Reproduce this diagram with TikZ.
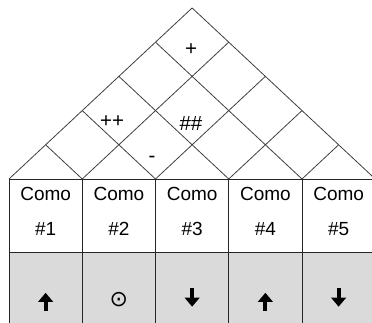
\documentclass[tikz,border=0pt]{standalone}
\usepackage{fontspec}
\usetikzlibrary{arrows.meta}
\setmainfont{Liberation Sans}
\newfontfamily\symfont{DejaVu Sans}
\definecolor{cellgray}{HTML}{DADADA}
\definecolor{roofline}{HTML}{404040}
\definecolor{gridline}{HTML}{262626}
\begin{document}
\begin{tikzpicture}[x=1pt,y=-1pt,
  roof/.style={draw=roofline,line width=0.8pt},
  grid/.style={draw=gridline,line width=0.9pt},
  lbl/.style={font=\fontsize{19}{22}\selectfont,inner sep=0pt},
  rooflbl/.style={font=\fontsize{20.5}{22}\selectfont,inner sep=0pt},
  dirbox/.style={inner sep=0pt,minimum width=14pt,minimum height=18pt},
  dirarrow/.style={draw=black,line width=4pt,-{Triangle[width=14.5pt,length=9pt]}},
  circ/.style={font=\symfont\fontsize{22}{24}\selectfont,inner sep=0pt}]
\useasboundingbox (0,0) rectangle (372,323);
\fill[white] (0,0) rectangle (372,323);
\def\L{9}\def\W{73.25}\def\T{179}\def\S{0.934}\def\D{252}\def\B{330}
% base points
\foreach \i in {0,...,5}{\coordinate (p\i) at ({\L+\W*\i},\T);}
% gray row
\fill[cellgray] (\L,\D) rectangle ({\L+5*\W},\B);
% roof grid
\foreach \i in {0,...,4}{\draw[roof] (p\i) -- ++({\W*(5-\i)/2},{-\S*\W*(5-\i)/2});}
\foreach \i in {1,...,5}{\draw[roof] (p\i) -- ++({-\W*\i/2},{-\S*\W*\i/2});}
% table
\draw[grid] (p0) -- (p5);
\draw[grid] (\L,\D) -- ({\L+5*\W},\D);
\foreach \i in {0,...,5}{\draw[grid] (p\i) -- ({\L+\W*\i},\B);}
% labels
\foreach \i in {1,...,5}{
  \node[lbl] (como\i) at ({\L+\W*(\i-0.5)},194) {Como};
  \node[lbl] (num\i) at ({\L+\W*(\i-0.5)},229) {\#\i};
}
% direction of improvement
\node[dirbox] (d1) at ({\L+\W*0.5},302) {};
\node[circ] (d2) at ({\L+\W*1.5},300) {⊙};
\node[dirbox] (d3) at ({\L+\W*2.5},297.5) {};
\node[dirbox] (d4) at ({\L+\W*3.5},302) {};
\node[dirbox] (d5) at ({\L+\W*4.5},297.5) {};
\draw[dirarrow] (d1.south) -- (d1.north);
\draw[dirarrow] (d3.north) -- (d3.south);
\draw[dirarrow] (d4.south) -- (d4.north);
\draw[dirarrow] (d5.north) -- (d5.south);
% roof marks
\node[rooflbl] (r1) at (191,50) {+};
\node[rooflbl] (r2) at (112,122) {++};
\node[rooflbl] (r3) at (191,123) {\#\#};
\node[rooflbl] (r4) at (152,159) {-};
\end{tikzpicture}
\end{document}
